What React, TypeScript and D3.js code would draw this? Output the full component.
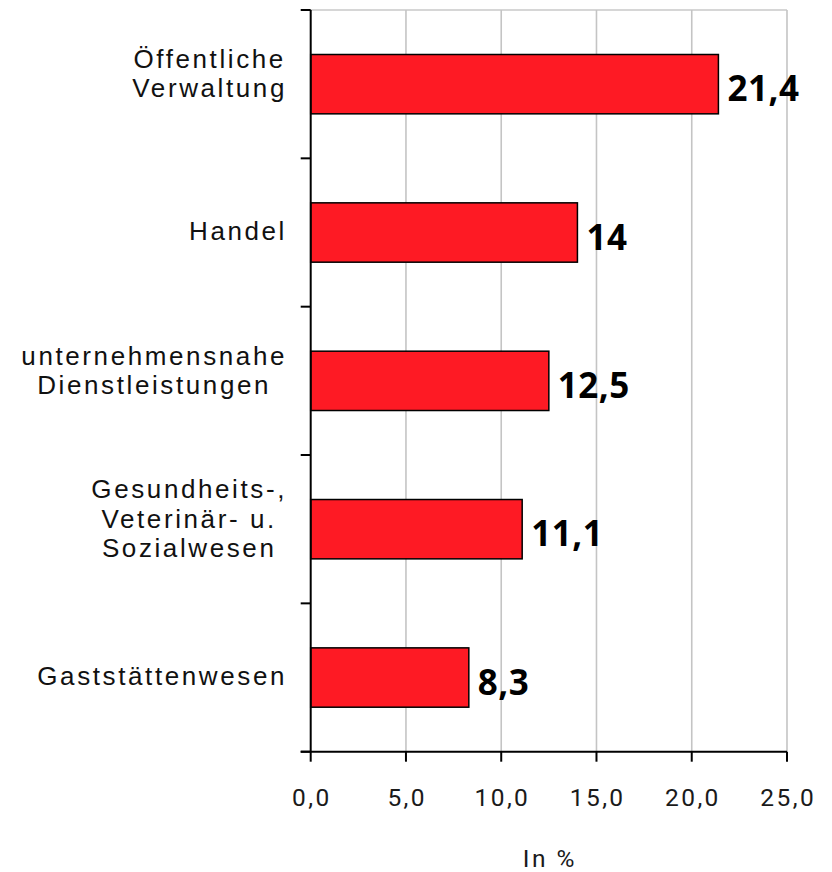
import React, { useEffect, useRef } from "react";
import * as d3 from "d3";

const categories: string[][] = [
  ["Öffentliche", "Verwaltung"],
  ["Handel"],
  ["unternehmensnahe", "Dienstleistungen"],
  ["Gesundheits-,", "Veterinär- u.", "Sozialwesen"],
  ["Gaststättenwesen"],
];
const values: number[] = [21.4, 14, 12.5, 11.1, 8.3];
const valueLabels: string[] = ["21,4", "14", "12,5", "11,1", "8,3"];
const xTicks: number[] = [0, 5, 10, 15, 20, 25];
const axisTitle = "In %";

const W = 832;
const H = 872;

export default function App() {
  const ref = useRef<SVGSVGElement | null>(null);

  useEffect(() => {
    const svg = d3.select(ref.current);
    svg.selectAll("*").remove();

    const x = d3.scaleLinear().domain([0, 25]).range([310.7, 787]);
    const y = d3
      .scaleBand<number>()
      .domain(d3.range(values.length))
      .range([10, 751.7])
      .paddingInner(0.6)
      .paddingOuter(0.3);
    const step = y.step();
    const top = 10;
    const bottom = 751.7;

    svg.append("line")
      .attr("x1", x(0)).attr("x2", x(25))
      .attr("y1", top).attr("y2", top)
      .attr("stroke", "#c8c8c8").attr("stroke-width", 1.5);

    svg.selectAll("line.grid")
      .data(xTicks.filter((t) => t > 0))
      .enter()
      .append("line")
      .attr("class", "grid")
      .attr("x1", (d) => x(d)).attr("x2", (d) => x(d))
      .attr("y1", top).attr("y2", bottom)
      .attr("stroke", "#c4c4c4").attr("stroke-width", 1.6);

    svg.selectAll("rect.bar")
      .data(values)
      .enter()
      .append("rect")
      .attr("class", "bar")
      .attr("x", x(0))
      .attr("y", (_d, i) => y(i)!)
      .attr("width", (d) => x(d) - x(0))
      .attr("height", y.bandwidth())
      .attr("fill", "#fe1a24")
      .attr("stroke", "#000")
      .attr("stroke-width", 1.5);

    svg.selectAll("text.val")
      .data(values)
      .enter()
      .append("text")
      .attr("class", "val")
      .attr("x", (d) => x(d) + 9)
      .attr("y", (_d, i) => y(i)! + y.bandwidth() / 2 + 17)
      .attr("font-family", "'Open Sans', Roboto, sans-serif")
      .attr("font-weight", 700)
      .attr("font-size", 35)
      .attr("letter-spacing", 0.5)
      .attr("fill", "#000")
      .text((_d, i) => valueLabels[i]);

    svg.append("line")
      .attr("x1", x(0)).attr("x2", x(0))
      .attr("y1", top).attr("y2", bottom)
      .attr("stroke", "#000").attr("stroke-width", 2);
    svg.selectAll("line.ytick")
      .data(d3.range(values.length + 1))
      .enter()
      .append("line")
      .attr("class", "ytick")
      .attr("x1", x(0) - 10).attr("x2", x(0))
      .attr("y1", (i) => top + i * step)
      .attr("y2", (i) => top + i * step)
      .attr("stroke", "#000").attr("stroke-width", 2);

    svg.append("line")
      .attr("x1", x(0) - 10).attr("x2", x(25))
      .attr("y1", bottom).attr("y2", bottom)
      .attr("stroke", "#000").attr("stroke-width", 2);
    svg.selectAll("line.xtick")
      .data(xTicks)
      .enter()
      .append("line")
      .attr("class", "xtick")
      .attr("x1", (d) => x(d)).attr("x2", (d) => x(d))
      .attr("y1", bottom).attr("y2", bottom + 10)
      .attr("stroke", "#000").attr("stroke-width", 2);
    const fmt = d3.format(".1f");
    svg.selectAll("text.xlab")
      .data(xTicks)
      .enter()
      .append("text")
      .attr("class", "xlab")
      .attr("x", (d) => x(d) + 1.2)
      .attr("y", 806)
      .attr("text-anchor", "middle")
      .attr("font-family", "Roboto, sans-serif")
      .attr("font-size", 24.5)
      .attr("letter-spacing", 2.4)
      .attr("fill", "#1a1a1a")
      .text((d) => fmt(d).replace(".", ","));

    svg.append("text")
      .attr("x", (x(0) + x(25)) / 2 + 1)
      .attr("y", 867)
      .attr("text-anchor", "middle")
      .attr("font-family", "Roboto, sans-serif")
      .attr("font-size", 24.5)
      .attr("letter-spacing", 2.5)
      .attr("fill", "#1a1a1a")
      .text(axisTitle);

    const lineH = 29.5;
    const rightEdge = 287;
    categories.forEach((lines, i) => {
      const c = y(i)! + y.bandwidth() / 2;
      const n = lines.length;
      const meanBase = n > 1 ? c - 1.5 : c + 7;
      const g = svg.append("g");
      lines.forEach((ln, j) => {
        g.append("text")
          .attr("x", 0)
          .attr("y", meanBase + (j - (n - 1) / 2) * lineH)
          .attr("text-anchor", "middle")
          .attr("font-family", "'Liberation Sans', Arial, sans-serif")
          .attr("font-size", 26)
          .attr("letter-spacing", 2.6)
          .attr("fill", "#111")
          .text(ln);
      });
      const node = g.node() as SVGGElement;
      const bb = node.getBBox();
      const shift = rightEdge - (bb.x + bb.width);
      g.attr("transform", `translate(${shift},0)`);
    });
  }, []);

  return (
    <svg
      ref={ref}
      width={W}
      height={H}
      style={{ position: "absolute", left: 0, top: 0, background: "#fff" }}
    />
  );
}
